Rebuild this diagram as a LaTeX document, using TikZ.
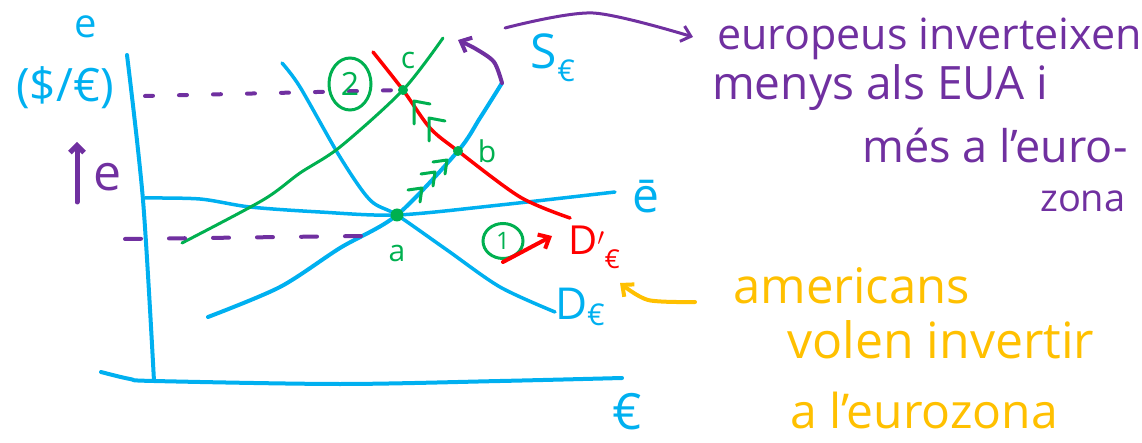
\documentclass[tikz,border=0pt]{standalone}
\usepackage{fontspec}
\setmainfont{Open Sans}
\usetikzlibrary{arrows.meta, shapes.geometric}
\definecolor{skyb}{HTML}{00B0F0}
\definecolor{grn}{HTML}{00B050}
\definecolor{purp}{HTML}{7030A0}
\definecolor{ambar}{HTML}{FFC000}
\definecolor{redd}{HTML}{FF0000}
\newcommand{\pensize}[1]{\fontsize{#1}{#1}\selectfont}

\begin{document}
\begin{tikzpicture}[x=1pt, y=-1pt,
        pen/.style={line width=3.5pt, line cap=round, line join=round},
        bluepen/.style={pen, skyb, line width=4pt},
        greenpen/.style={pen, grn, line width=3pt},
        barb/.style={-{Straight Barb[length=9pt, width=16pt]}},
        dot/.style={circle, fill=grn, inner sep=0pt, minimum size=10pt},
        lbl/.style={inner sep=0pt, font=\pensize{30}},
        note/.style={inner sep=0pt, anchor=base west, font=\pensize{43}}]
      \useasboundingbox (0,0) rectangle (1142,443);

      \coordinate (a) at (397,215);
      \coordinate (b) at (458,151);
      \coordinate (c) at (403,90);

      \draw[bluepen] plot[smooth] coordinates {(127,55) (143,200) (154,381)};
      \draw[bluepen] plot[smooth] coordinates {(101,372) (130,379) (154,381)
            (340,384) (500,381) (622,378)};
      \draw[bluepen, line width=3.5pt] plot[smooth] coordinates {(145,198) (200,199)
            (250,207) (320,212) (a) (500,205) (615,192)};
      \draw[bluepen] plot[smooth] coordinates {(208,317) (280,287) (340,248)
            (a) (b) (480,118) (502,83)};
      \draw[bluepen, line width=3.5pt] plot[smooth] coordinates {(282,63) (300,87)
            (340,157) (370,200) (a) (447,250) (500,287) (555,312)};
      \draw[pen, redd] plot[smooth] coordinates {(373,52) (c) (430,128)
            (b) (520,197) (570,218)};
      \draw[greenpen] plot[smooth] coordinates {(182,243) (263,200)
            (300,173) (340,147) (c) (443,38)};

      \coordinate (dashU) at (145,96);
      \coordinate (dashL) at (125,239);
      \coordinate (dashLe) at (362,236);
      \draw[pen, purp, line width=4pt, dash pattern=on 8pt off 26pt] (dashU) -- (c);
      \draw[pen, purp, line width=4pt, dash pattern=on 16pt off 28pt] (dashL) -- (dashLe);

      \foreach \x/\y in {422/188, 435/172, 447/160}
        \draw[greenpen] (\x-14,\y+2) -- (\x,\y) -- (\x-2,\y+14);
      \foreach \x/\y in {414/101, 429/118}
        \draw[greenpen] (\x,\y+23) -- (\x,\y) -- (\x+16,\y+3);

      \node[dot, minimum size=13pt] (dotA) at (a) {};
      \node[dot] (dotB) at (b) {};
      \node[dot] (dotC) at (c) {};

      \node[lbl, grn] (la) at (397,253) {a};
      \node[lbl, grn] (lb) at (487,151) {b};
      \node[lbl, grn] (lc) at (408,60) {c};
      \node[ellipse, draw=grn, line width=3pt, minimum width=42pt,
            minimum height=52pt, inner sep=0pt, text=grn, font=\pensize{32}]
            (two) at (350,84) {2};
      \node[ellipse, draw=grn, line width=3pt, minimum width=40pt,
            minimum height=35pt, inner sep=0pt, text=grn, font=\pensize{24}]
            (one) at (503,241) {1};

      \coordinate (shiftS) at (458,40);
      \draw[pen, purp, line width=4pt, barb] plot[smooth] coordinates {(502,83) (494,62)
            (476,49) (shiftS)};
      \coordinate (redS) at (503,262);
      \coordinate (redE) at (552,236);
      \draw[pen, redd, line width=4pt, barb] (redS) -- (redE);

      \node[lbl, skyb] (lS) at (553,58) {\pensize{48}S\raisebox{-13pt}{\pensize{30}€}};
      \node[lbl, skyb] (lD) at (580,307) {\pensize{44}D\raisebox{-6pt}{\pensize{30}€}};
      \node[lbl, redd] (lDp) at (594,247) {\pensize{40}D$'$\raisebox{-14pt}{\pensize{26}€}};
      \node[lbl, skyb] (lebar) at (646,197) {\pensize{48}ē};
      \node[lbl, skyb] (leuro) at (627,412) {\pensize{50}€};
      \node[lbl, skyb] (lrate) at (65,88) {\pensize{46}(\$/€)};
      \node[lbl, skyb] (le) at (86,27) {\pensize{40}e};
      \node[lbl, purp] (lup) at (108,177) {\pensize{50}e};
      \coordinate (upS) at (77,202);
      \coordinate (upE) at (77,142);
      \draw[pen, purp, line width=5pt, -{Straight Barb[length=7pt, width=14pt]}] (upS) -- (upE);

      \node[note, purp] (eu1) at (717,50) {europeus inverteixen};
      \node[note, purp, font=\pensize{46}] (eu2) at (712,100) {menys als EUA i};
      \node[note, purp, font=\pensize{45}] (eu3) at (862,163) {més a l'euro-};
      \node[note, purp, font=\pensize{38}] (eu4) at (1040,212) {zona};
      \coordinate (euS) at (505,28);
      \coordinate (euE) at (693,37);
      \draw[pen, purp, line width=3pt, barb] plot[smooth] coordinates {(euS)
            (593,13) (euE)};

      \node[note, ambar, font=\pensize{49}] (am1) at (733,304) {americans};
      \node[note, ambar, font=\pensize{50}] (am2) at (787,358) {volen invertir};
      \node[note, ambar, font=\pensize{48}] (am3) at (790,428) {a l'eurozona};
      \coordinate (amS) at (695,302);
      \coordinate (amE) at (620,283);
      \draw[pen, ambar, line width=4pt, barb] plot[smooth] coordinates {(amS) (648,300) (amE)};
    \end{tikzpicture}
\end{document}
